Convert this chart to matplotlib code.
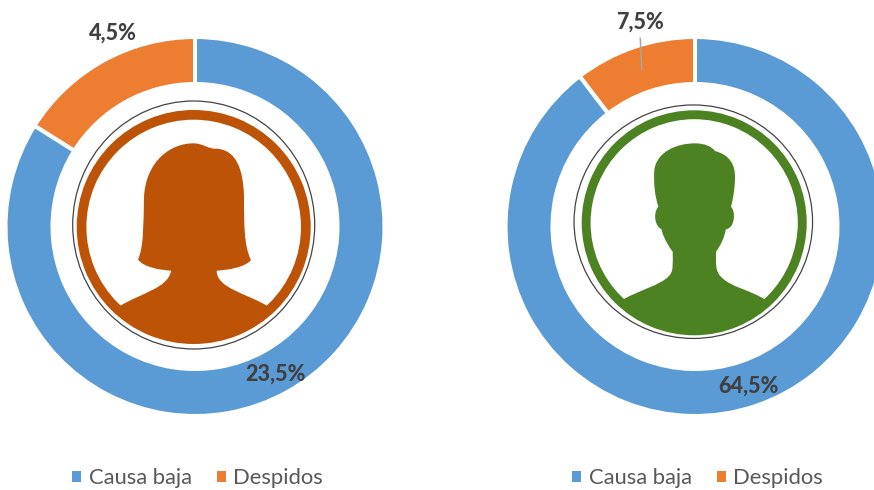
import numpy as np
import matplotlib
matplotlib.use('Agg')
import matplotlib.pyplot as plt
from matplotlib.patches import Ellipse, Patch, PathPatch, Wedge
from matplotlib.path import Path

W, H = 874, 490

categories = ['Causa baja', 'Despidos']
mujeres = [23.5, 4.5]
hombres = [64.5, 7.5]
colors = ['#5B9BD5', '#ED7D31']

plt.rcParams['font.family'] = ['Lato', 'DejaVu Sans']

fig = plt.figure(figsize=(W/100, H/100), dpi=100, facecolor='white')


def fmt(v):
    return f'{v}%'.replace('.', ',')


def make_donut(values, cx, cy, legend_x):
    R = 189.5
    ax = fig.add_axes([(cx-R)/W, 1-(cy+R)/H, 2*R/W, 2*R/H])
    ax.pie(values, colors=colors, startangle=90, counterclock=False, radius=1,
           wedgeprops={'width': 47/R, 'edgecolor': 'white', 'linewidth': 2.9})
    ax.set_xlim(-1, 1)
    ax.set_ylim(-1, 1)
    handles = [Patch(facecolor=c, edgecolor='none') for c in colors]
    fig.legend(handles, categories, loc='center', bbox_to_anchor=(legend_x/W, 1-478/H), ncol=2, frameon=False,
               fontsize=15.8, labelcolor='#595959', handlelength=0.41, handleheight=0.41,
               handletextpad=0.35, columnspacing=1.13)
    return ax


def silhouette(ov, pts, ox, oy, center, r, color):
    # pts: start point, then groups of 3 bezier points, coords taken off the 3x crop
    verts = [pts[0]]
    codes = [Path.MOVETO]
    for p in pts[1:]:
        verts.append(p)
        codes.append(Path.CURVE4)
    a1 = np.arctan2(pts[-1][1]-center[1], pts[-1][0]-center[0])
    a2 = np.arctan2(pts[0][1]-center[1], pts[0][0]-center[0])
    for a in np.linspace(a1, a2, 30):
        verts.append((center[0]+r*np.cos(a), center[1]+r*np.sin(a)))
        codes.append(Path.LINETO)
    verts.append(pts[0])
    codes.append(Path.CLOSEPOLY)
    verts = [(ox+x/3, oy+y/3) for x, y in verts]
    ov.add_patch(PathPatch(Path(verts, codes), facecolor=color, edgecolor='none'))


def portrait(ov, cx, cy, r_out, r_in, thin, color):
    ov.add_patch(Ellipse(thin[:2], thin[2], thin[3], facecolor='none', edgecolor='#444444', linewidth=0.9))
    ov.add_patch(Wedge((cx, cy), r_out, 0, 360, width=r_out-r_in, facecolor=color, edgecolor='none'))


make_donut(mujeres, 195, 226.5, 197.5)
make_donut(hombres, 695, 226.5, 697.5)

# overlay in pixel coords for the pictures and the labels
ov = fig.add_axes([0, 0, 1, 1])
ov.set_xlim(0, W)
ov.set_ylim(H, 0)
ov.axis('off')

# mujer
portrait(ov, 193.7, 227, 117, 107.3, (193.7, 225, 242, 248), '#BD5306')
woman = [(180, 648),
         (240, 610), (325, 595), (333, 542),
         (300, 540), (250, 532), (234, 508),
         (252, 470), (250, 400), (252, 320),
         (258, 215), (330, 160), (400, 160),
         (430, 160), (445, 178), (470, 176),
         (530, 180), (550, 240), (552, 320),
         (552, 400), (552, 470), (573, 510),
         (555, 532), (505, 540), (470, 542),
         (470, 595), (560, 610), (622, 648)]
silhouette(ov, woman, 60, 90, (401, 411), 332, '#BD5306')

# hombre
portrait(ov, 694.2, 222.8, 112.5, 103.6, (693.3, 221.7, 238.5, 233.5), '#4D8222')
man = [(190, 628),
       (240, 600), (300, 585), (325, 560),
       (342, 545), (338, 520), (338, 485),
       (315, 455), (305, 425), (305, 418),
       (285, 410), (278, 370), (295, 350),
       (285, 320), (280, 280), (283, 240),
       (290, 185), (350, 160), (405, 160),
       (435, 160), (455, 170), (465, 183),
       (510, 195), (525, 225), (525, 260),
       (525, 290), (520, 325), (513, 350),
       (528, 365), (525, 415), (497, 418),
       (495, 440), (480, 470), (468, 485),
       (468, 520), (465, 545), (485, 562),
       (510, 590), (570, 600), (614, 628)]
silhouette(ov, man, 560, 90, (402, 398), 322, '#4D8222')

# etiquetas
ov.plot([640.3, 641.7], [38.3, 69.3], color='#A6A6A6', linewidth=1.1)
label_style = {'ha': 'center', 'va': 'center', 'fontsize': 15.5, 'fontweight': 900, 'color': '#404040'}
ov.text(113, 33, fmt(mujeres[1]), **label_style)
ov.text(275, 374, fmt(mujeres[0]), **label_style)
ov.text(640, 22, fmt(hombres[1]), **label_style)
ov.text(748, 386, fmt(hombres[0]), **label_style)

plt.savefig('out.png', dpi=100)
